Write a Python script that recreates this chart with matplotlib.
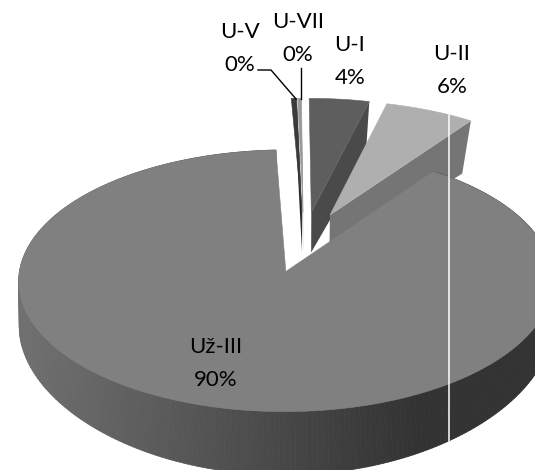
import numpy as np
import matplotlib
matplotlib.use("Agg")
import matplotlib.pyplot as plt
from matplotlib.patches import Polygon

plt.rcParams['font.family'] = ['Lato', 'DejaVu Sans']

# data
names = ["U-I", "U-II", "Už-III", "U-V", "U-VII"]
shares = [4.0, 6.0, 89.4, 0.35, 0.25]
pct_labels = ["4%", "6%", "90%", "0%", "0%"]
top_colors = ["#5e5e5e", "#afafaf", "#808080", "#3a3a3a", "#9a9a9a"]
cut_colors = ["#4a4a4a", "#757575", "#808080", "#222222", "#777777"]

# label places in picture pixels
label_x = [350, 452, 216, 240, 298]
label_y = [45, 54, 347, 32, 22]
line_gap = 33

rotation = -0.4   # degrees
explode = 0.24

# view of the pie, top plane and bottom plane (fitted by eye)
top_plane = dict(cx=304, cy=242, a=262, b=126, px=0.07, py=0.07)
low_plane = dict(cx=304, cy=280.6, a=258, b=123, px=0.11, py=0.18)


def project(u, v, plane):
    x = plane["cx"] + plane["a"] * u / (1.0 + plane["px"] * v)
    y = plane["cy"] - plane["b"] * v / (1.0 + plane["py"] * v)
    return x, y


def rim(theta, mid, plane):
    # theta in degrees clockwise from the top
    t = np.radians(theta)
    m = np.radians(mid)
    u = explode * np.sin(m) + np.sin(t)
    v = explode * np.cos(m) + np.cos(t)
    return project(u, v, plane)


def hub(mid, plane):
    m = np.radians(mid)
    return project(explode * np.sin(m), explode * np.cos(m), plane)


fig = plt.figure(figsize=(5.35, 4.7), dpi=100)
ax = fig.add_axes([0, 0, 1, 1])
ax.set_xlim(0, 535)
ax.set_ylim(470, 0)
ax.axis("off")

edges = rotation + np.concatenate([[0], np.cumsum(shares)]) * 3.6


def draw_slice(i):
    start, end = edges[i], edges[i + 1]
    mid = (start + end) / 2
    thetas = np.linspace(start, end, 300)

    if names[i] == "Už-III":
        # outer wall with the grey running darker to the right
        for t0, t1 in zip(thetas[:-1], thetas[1:]):
            p0, p1 = rim(t0, mid, top_plane), rim(t1, mid, top_plane)
            q0, q1 = rim(t0, mid, low_plane), rim(t1, mid, low_plane)
            f = np.clip((q0[0] - 20) / 400, 0, 1)
            g = (0x70 + (0x33 - 0x70) * f) / 255
            ax.add_patch(Polygon([p0, p1, q1, q0], closed=True, facecolor=(g, g, g),
                                 edgecolor=(g, g, g), lw=0.6, zorder=3))
    else:
        # cut face at the end of the slice
        a, b = hub(mid, top_plane), rim(end, mid, top_plane)
        c, d = rim(end, mid, low_plane), hub(mid, low_plane)
        ax.add_patch(Polygon([a, b, c, d], closed=True, facecolor=cut_colors[i],
                             edgecolor="none", zorder=2 + i * 0.01))

    arc = [rim(t, mid, top_plane) for t in thetas]
    ax.add_patch(Polygon([hub(mid, top_plane)] + arc, closed=True, facecolor=top_colors[i],
                         edgecolor=top_colors[i], lw=0.4, zorder=4 if names[i] == "Už-III" else 2.5 + i * 0.01))


for i in range(len(names)):
    draw_slice(i)

# thin white stripe that runs down the original picture
ax.plot([448.5, 448.5], [115, 441], color="white", lw=1.1, zorder=5)

# leader lines of the two small slices
ax.plot([258, 271, 296], [70, 70, 99], color="black", lw=1.0, zorder=6)
ax.plot([301, 301], [68, 99], color="black", lw=1.0, zorder=6)

for name, pct, x, y in zip(names, pct_labels, label_x, label_y):
    ax.text(x, y, name, ha="center", va="center", fontsize=16, color="black", zorder=7)
    ax.text(x, y + line_gap, pct, ha="center", va="center", fontsize=16, color="black", zorder=7)

fig.savefig("out.png", dpi=100)
